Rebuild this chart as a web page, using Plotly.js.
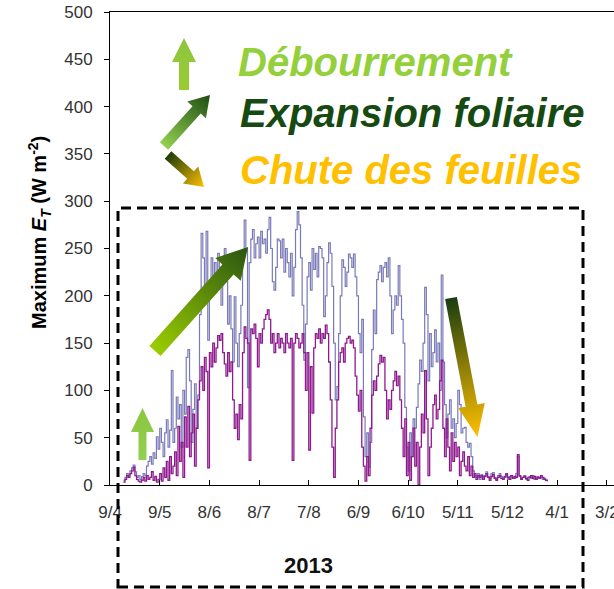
<!DOCTYPE html>
<html>
<head>
<meta charset="utf-8">
<script src="https://cdn.plot.ly/plotly-3.0.1.min.js"></script>
<style>html,body{margin:0;padding:0;background:#fff;}#chart{width:614px;height:589px;}</style>
</head>
<body>
<div id="chart"></div>
<script>
// ---- data (daily values) ----
const startDate = '2013-04-17';
const seriesBlue = [
5,8,12,10,15, 18,21,14,8,10, 6,9,12,10,20,25, 30,22,34,28,51, 38,60,45,30,55,
69,40,58,121,45, 60,93,70,85,40, 100,75,135,143,110, 45,80,107,60,95,
180,266,240,210,268, 153,200,240,220,235, 210,245,230,190,238, 250,215,170,200,165,
130,199,150,125,160, 190,240,280,250,103, 235,260,270,240,255, 262,240,268,255,260,
245,270,283,250,215, 206,230,260,258,240, 260,225,250,235,220, 245,200,230,270,289,
275,240,190,132,170, 220,235,206,250,228, 245,220,252,250,240, 178,200,235,256,245,
210,150,90,104,160, 200,238,230,210,225, 244,240,230,244,220, 200,160,140,175,72,
30,55,19,45,143, 185,160,217,225,232, 215,230,235,220,240, 200,160,185,200,190,
232,200,175,150,82, 40,15,55,30,70, 60,82,107,132,120, 150,209,180,110,160,
125,140,164,130,150, 100,222,130,85,50, 75,90,60,70,50, 65,100,85,55,60,
61,45,40,44,30, 15,10,8,12,6,
11,8,10,14,9, 7,12,13,8,6, 10,12,9,7,8, 11,6,9,10,8, 7,12,30,9,7, 8,10,6,8,9,
7,10,6,8,9, 7,8,6,7,5, 4
];
const seriesPurple = [
3,6,10,8,12, 15,19,10,6,4, 3,5,8,4,10,6, 8,14,5,9,3, 6,12,4,18,8,
25,5,30,12,20, 35,10,62,25,45, 8,72,40,83,30, 55,75,20,60,90,
110,125,100,135,120, 18,140,125,150,130, 145,158,153,160,140, 128,115,140,120,130,
90,60,75,48,85, 70,140,167,155,150, 26,165,160,170,155, 125,160,150,165,175,
180,185,175,150,160, 140,150,160,145,155, 150,140,160,150,145, 155,26,150,160,155,
145,150,160,140,100, 140,37,125,76,145, 160,155,165,150,160, 155,169,160,130,90,
40,8,60,90,130, 140,145,130,150,155, 157,150,153,145,115, 95,78,100,40,20,
4,30,10,60,95, 110,100,115,128,137, 130,135,100,70,90, 80,100,110,120,105,
115,90,60,30,70, 10,45,5,30,60, 20,45,0,40,75, 55,121,70,10,40,
60,85,95,70,80, 110,132,60,30,70, 40,15,55,25,45, 30,40,10,25,35,
20,15,30,10,20, 8,12,6,10,8,
10,6,9,12,8, 5,9,11,7,5, 8,10,7,6,9, 12,8,6,10,7, 9,8,32,10,6, 8,9,7,5,8,
10,7,9,6,8, 7,10,8,6,5, 4
];
const tickDates = ['2013-04-09','2013-05-09','2013-06-08','2013-07-08','2013-08-07','2013-09-06',
  '2013-10-06','2013-11-05','2013-12-05','2014-01-04','2014-02-03'];
const tickLabels = ['9/4','9/5','8/6','8/7','7/8','6/9','6/10','5/11','5/12','4/1','3/2'];
const phaseLabels = ['Débourrement','Expansion foliaire','Chute des feuilles'];
const yearLabel = '2013';

// ---- build dates ----
function dayList(start, n){
  const out=[]; const t0=Date.parse(start+'T00:00:00Z');
  for(let i=0;i<n;i++){ out.push(new Date(t0+i*86400000).toISOString().slice(0,10)); }
  return out;
}
const dates = dayList(startDate, seriesBlue.length);

// ---- geometry helpers (figure pixels -> paper) ----
const W=614,H=589,ML=110,MR=0,MT=12,MB=104;
const PW=W-ML-MR, PH=H-MT-MB;
const px=x=>(x-ML)/PW, py=y=>(H-MB-y)/PH;

// ---- arrow overlay (SVG with gradients) ----
function arrow(id,x0,y0,x1,y1,sw,hw,hl,c0,c1){
  const dx=x1-x0, dy=y1-y0, L=Math.hypot(dx,dy), ux=dx/L, uy=dy/L, nx=-uy, ny=ux;
  const bx=x1-ux*hl, by=y1-uy*hl;
  const p=[[x0+nx*sw/2,y0+ny*sw/2],[bx+nx*sw/2,by+ny*sw/2],[bx+nx*hw/2,by+ny*hw/2],[x1,y1],
           [bx-nx*hw/2,by-ny*hw/2],[bx-nx*sw/2,by-ny*sw/2],[x0-nx*sw/2,y0-ny*sw/2]];
  return `<linearGradient id="${id}" gradientUnits="userSpaceOnUse" x1="${x0}" y1="${y0}" x2="${x1}" y2="${y1}"><stop offset="0" stop-color="${c0}"/><stop offset="1" stop-color="${c1}"/></linearGradient>`+
    `<polygon points="${p.map(q=>q[0].toFixed(1)+','+q[1].toFixed(1)).join(' ')}" fill="url(#${id})"/>`;
}
const svg = `<svg xmlns="http://www.w3.org/2000/svg" width="${W}" height="${H}" viewBox="0 0 ${W} ${H}">`+
  arrow('a1',184,90,184,38,10,24,24,'#99cc33','#8cc63f')+
  arrow('a2',164,146,210,95,11,25,20,'#92d050','#1e4d12')+
  arrow('a3',168,155,204,187,10,23,18,'#1e3d0a','#ffc000')+
  arrow('a4',142.5,460,142.5,408,8,23,24,'#92d050','#8cc63f')+
  arrow('a5',155,351,248,247,15,34,30,'#9acd00','#2a5512')+
  arrow('a6',451,298,477.5,437,12,27,32,'#1a3d10','#ffc000')+
  `</svg>`;

const traces = [
  {x:dates, y:seriesBlue, type:'scatter', mode:'lines', line:{color:'#7a7ab8', width:1.2, shape:'hv'}, hoverinfo:'skip'},
  {x:dates, y:seriesPurple, type:'scatter', mode:'lines', line:{color:'#8e1a8e', width:1.3, shape:'hv'}, hoverinfo:'skip'}
];

const tf = {family:'Arial, Liberation Sans, sans-serif'};
const layout = {
  width:W, height:H, margin:{l:ML,r:MR,t:MT,b:MB,pad:0},
  paper_bgcolor:'#fff', plot_bgcolor:'#fff', showlegend:false,
  xaxis:{type:'date', range:['2013-04-08 23:00','2014-02-07 08:00'], tickmode:'array',
    tickvals:tickDates, ticktext:tickLabels, ticks:'inside', ticklen:5, tickcolor:'#000',
    showline:true, linecolor:'#000', linewidth:1, mirror:true, showgrid:false, zeroline:false,
    ticklabeloverflow:'allow',
    tickfont:{...tf, size:17, color:'#333'}, ticklabelstandoff:12},
  yaxis:{range:[0,500], dtick:50, ticks:'outside', ticklen:5, tickcolor:'#000',
    showline:true, linecolor:'#000', linewidth:1, showgrid:false, zeroline:false,
    tickfont:{...tf, size:17, color:'#333'}, ticklabelstandoff:8},
  shapes:[{type:'rect', xref:'paper', yref:'paper', x0:px(118), x1:px(583), y0:py(587), y1:py(208),
    line:{color:'#000', width:3, dash:'10px,6px'}, fillcolor:'rgba(0,0,0,0)', layer:'above'}],
  images:[{source:'data:image/svg+xml;charset=utf-8,'+encodeURIComponent(svg), xref:'paper', yref:'paper',
    x:px(0), y:py(0), sizex:W/PW, sizey:H/PH, xanchor:'left', yanchor:'top', sizing:'stretch', layer:'above'}],
  annotations:[
    {text:'<b><i>'+phaseLabels[0]+'</i></b>', xref:'paper', yref:'paper', x:px(236), y:py(62), xanchor:'left', yanchor:'middle', showarrow:false, font:{...tf, size:40, color:'#94cf3c'}},
    {text:'<b><i>'+phaseLabels[1]+'</i></b>', xref:'paper', yref:'paper', x:px(238), y:py(113), xanchor:'left', yanchor:'middle', showarrow:false, font:{...tf, size:40, color:'#174a12'}},
    {text:'<b><i>'+phaseLabels[2]+'</i></b>', xref:'paper', yref:'paper', x:px(238), y:py(170), xanchor:'left', yanchor:'middle', showarrow:false, font:{...tf, size:40, color:'#ffc000'}},
    {text:'<b>'+yearLabel+'</b>', xref:'paper', yref:'paper', x:px(308), y:py(565), xanchor:'center', yanchor:'middle', showarrow:false, font:{...tf, size:22, color:'#111'}},
    {text:'<b>Maximum <i>E</i><sub><i>T</i></sub> (W m<sup>-2</sup>)</b>', xref:'paper', yref:'paper', x:px(40), y:py(233), xanchor:'center', yanchor:'middle', textangle:-90, showarrow:false, font:{...tf, size:20, color:'#000'}}
  ]
};
Plotly.newPlot('chart', traces, layout, {staticPlot:true, displayModeBar:false});
</script>
</body>
</html>
